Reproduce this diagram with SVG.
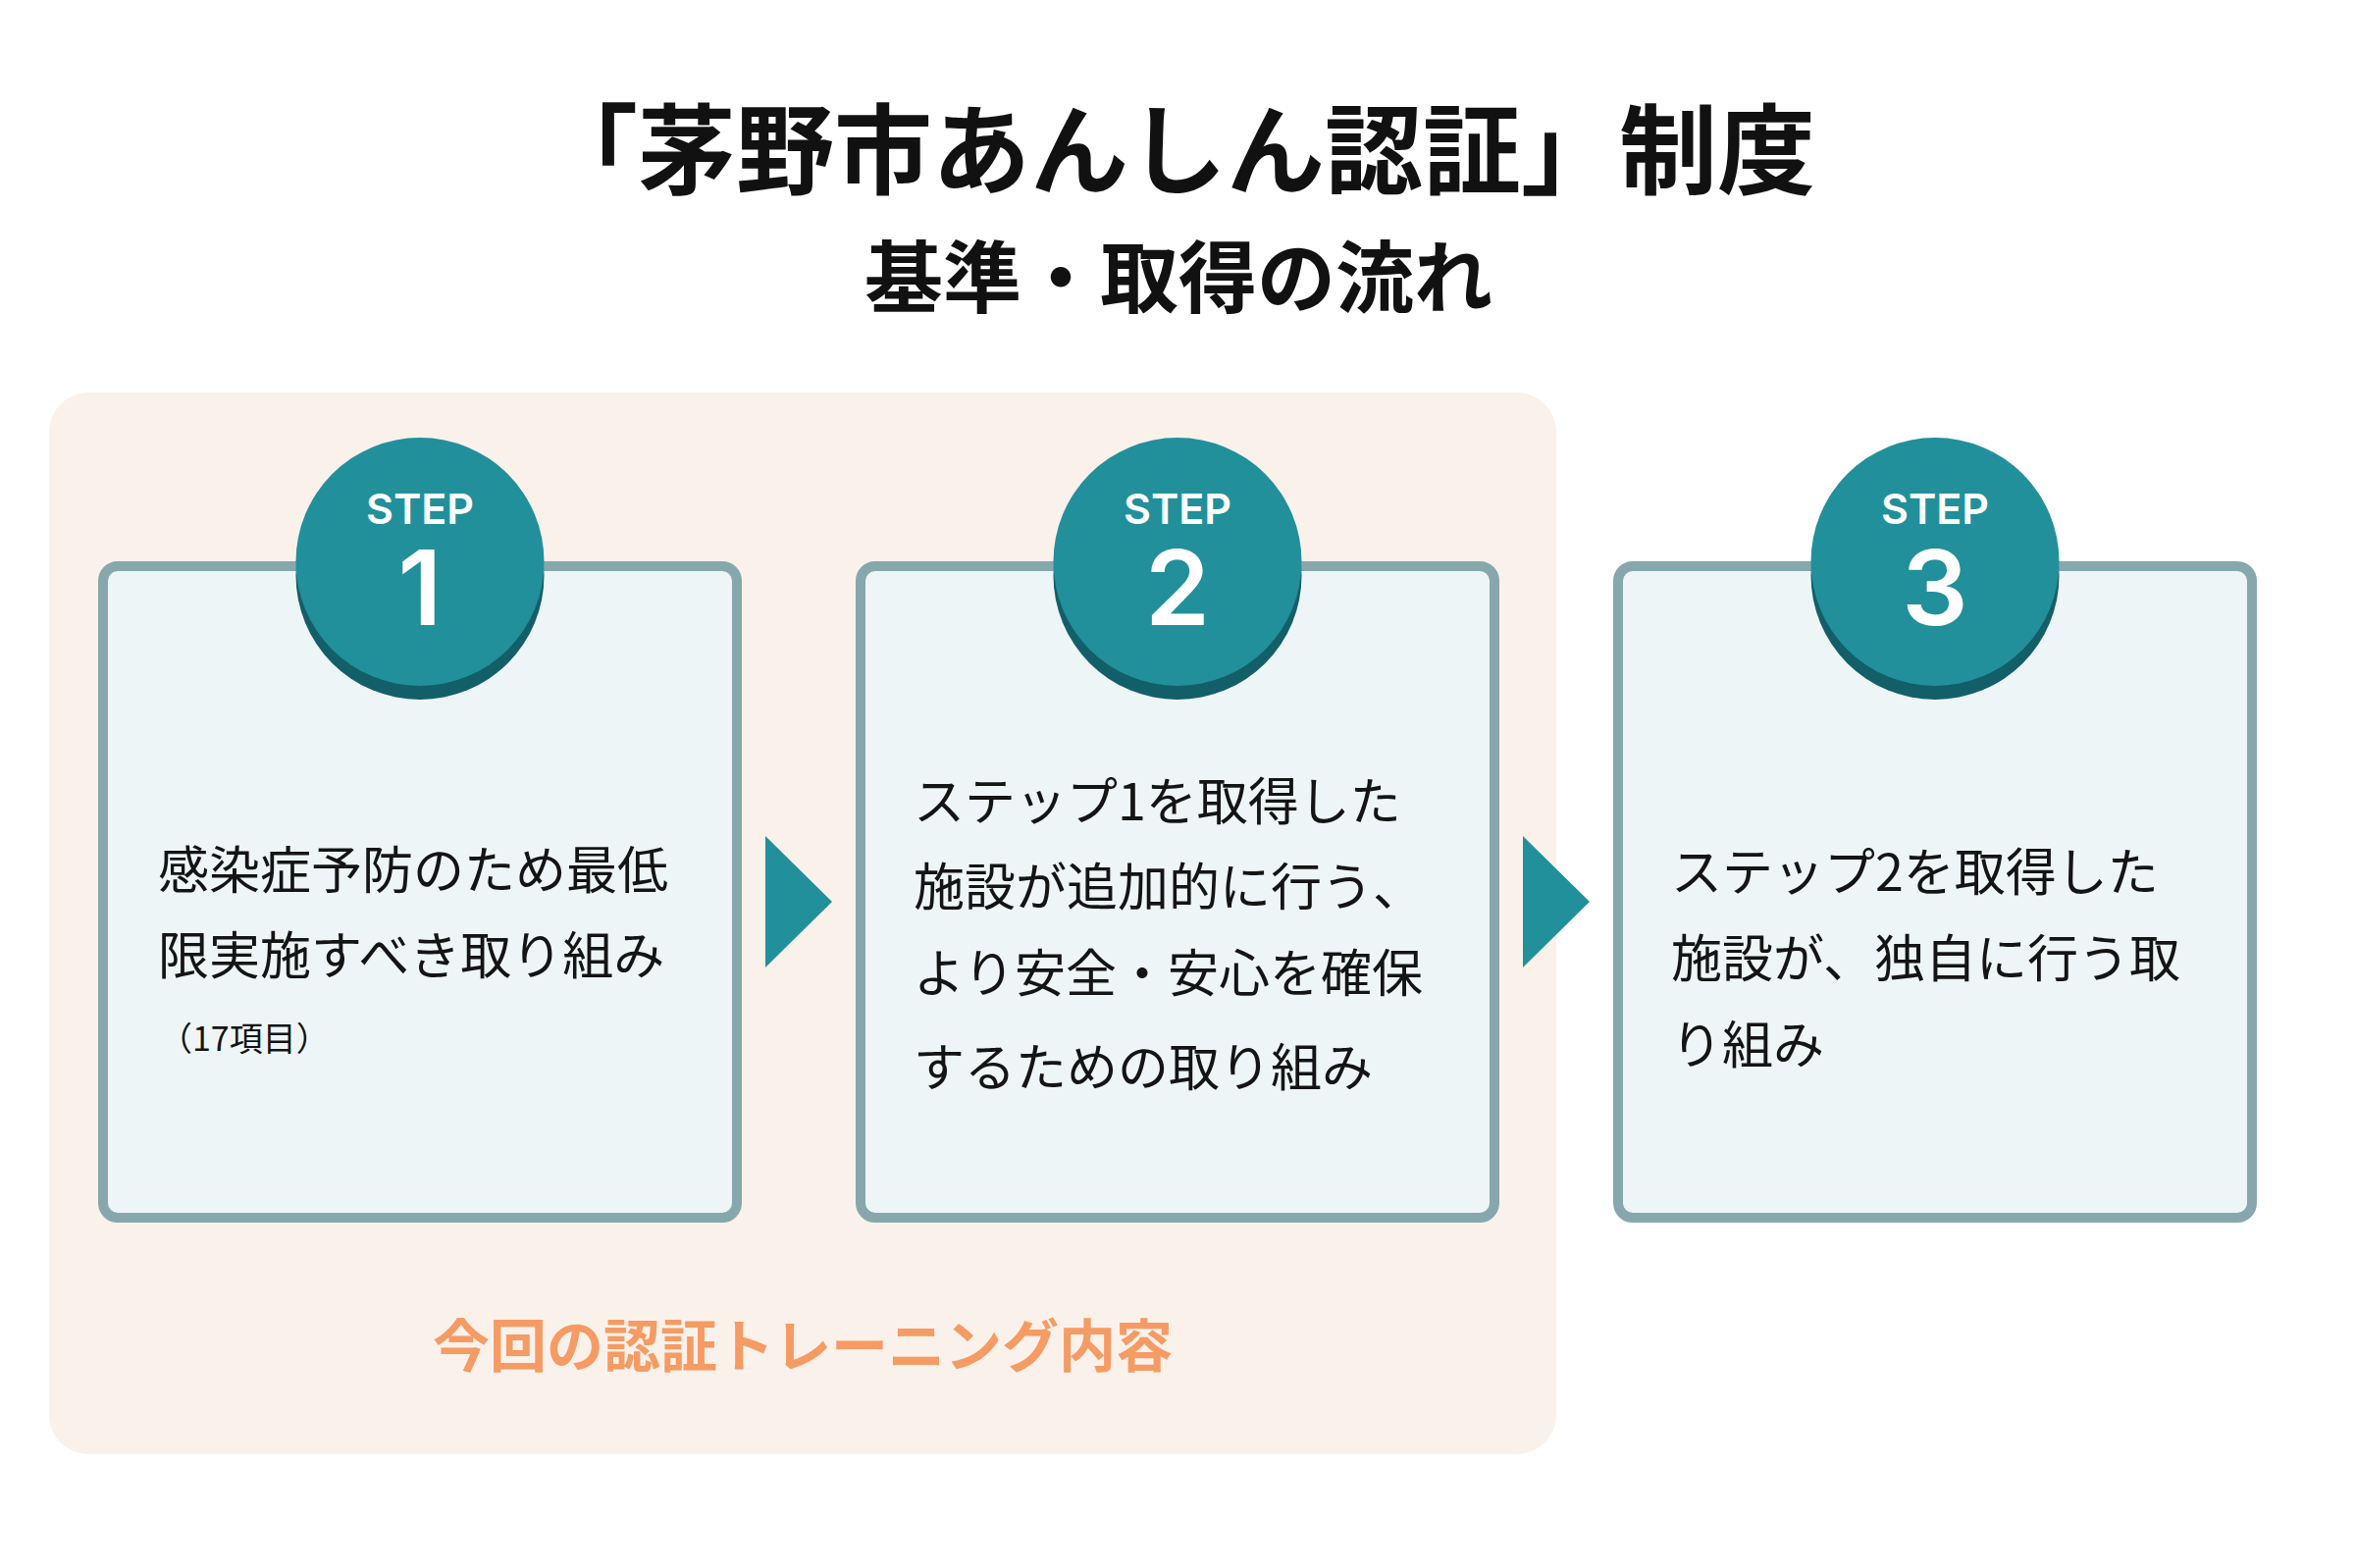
<svg xmlns="http://www.w3.org/2000/svg" width="2400" height="1598" viewBox="0 0 2400 1598">
<style>
.title{font-family:"Noto Sans CJK JP","Noto Sans CJK SC",sans-serif;font-weight:700;fill:#111;text-anchor:middle;}
.box{fill:#EEF5F7;stroke:#86A8AC;stroke-width:10;}
.badge{fill:#21909B;}
.shadow{fill:#135F69;}
.step{font-family:Inter,"Noto Sans",sans-serif;font-weight:600;font-size:43px;fill:#fff;text-anchor:middle;}
.num{font-family:Inter,"Noto Sans",sans-serif;font-weight:600;font-size:106px;fill:#fff;text-anchor:middle;}
.body{font-family:"Noto Sans CJK JP","Noto Sans CJK SC",sans-serif;font-size:52px;fill:#141414;}
.small{font-size:34px;}
.arrow{fill:#21909B;}
.label{font-family:"Noto Sans CJK JP","Noto Sans CJK SC",sans-serif;font-weight:700;font-size:58px;fill:#F59B63;}
</style>
<rect width="2400" height="1598" fill="#fff"/>
<g id="titles">
<text class="title" x="1200" y="190" font-size="100">「茅野市あんしん認証」制度</text>
<text class="title" x="1201" y="312" font-size="80">基準・取得の流れ</text>
</g>
<g id="training-panel">
<rect x="50" y="400" width="1536" height="1082" rx="40" fill="#FAF1EB"/>
<text class="label" x="441" y="1393">今回の認証トレーニング内容</text>
</g>
<g id="step1">
<rect class="box" x="105" y="577" width="646" height="664" rx="15"/>
<circle class="shadow" cx="428" cy="586.5" r="126.5"/>
<circle class="badge" cx="428" cy="572.5" r="126.5"/>
<text class="step" x="428" y="534">STEP</text>
<text class="num" x="428" y="637">1</text>
<text class="body" x="161" y="906">感染症予防のため最低</text>
<text class="body" x="161" y="993">限実施すべき取り組み</text>
<text class="body small" x="162" y="1071">（17項目）</text>
</g>
<g id="step2">
<rect class="box" x="877" y="577" width="646" height="664" rx="15"/>
<circle class="shadow" cx="1200" cy="586.5" r="126.5"/>
<circle class="badge" cx="1200" cy="572.5" r="126.5"/>
<text class="step" x="1200" y="534">STEP</text>
<text class="num" x="1200" y="637">2</text>
<text class="body" x="931" y="836">ステップ1を取得した</text>
<text class="body" x="931" y="923">施設が追加的に行う、</text>
<text class="body" x="931" y="1011">より安全・安心を確保</text>
<text class="body" x="931" y="1107">するための取り組み</text>
</g>
<g id="step3">
<rect class="box" x="1649" y="577" width="646" height="664" rx="15"/>
<circle class="shadow" cx="1972" cy="586.5" r="126.5"/>
<circle class="badge" cx="1972" cy="572.5" r="126.5"/>
<text class="step" x="1972" y="534">STEP</text>
<text class="num" x="1972" y="637">3</text>
<text class="body" x="1703" y="908">ステップ2を取得した</text>
<text class="body" x="1703" y="996">施設が、独自に行う取</text>
<text class="body" x="1703" y="1084">り組み</text>
</g>
<g id="connectors">
<polygon class="arrow" points="780,852 848,919 780,986"/>
<polygon class="arrow" points="1552,852 1620,919 1552,986"/>
</g>
</svg>
